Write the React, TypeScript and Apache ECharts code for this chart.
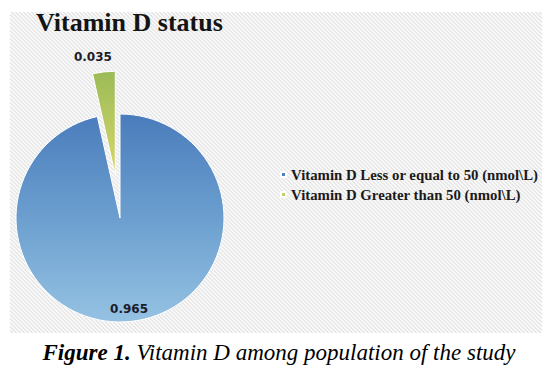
import React, { useEffect, useRef } from 'react';
import * as echarts from 'echarts';

const chartTitle = 'Vitamin D status';
const categories = ['Vitamin D Less or equal to 50 (nmol\\L)', 'Vitamin D Greater than 50 (nmol\\L)'];
const values = [0.965, 0.035];
const captionBold = 'Figure 1.';
const captionRest = 'Vitamin D among population of the study';

export default function App() {
  const ref = useRef<HTMLDivElement>(null);
  useEffect(() => {
    document.body.style.margin = '0';
    const chart = echarts.init(ref.current!, null, { renderer: 'svg' });

    const cvs = document.createElement('canvas');
    cvs.width = 4;
    cvs.height = 4;
    const ctx = cvs.getContext('2d')!;
    ctx.fillStyle = '#f9f9f9';
    ctx.fillRect(0, 0, 4, 4);
    ctx.fillStyle = '#e8e8e8';
    for (let i = 0; i < 4; i++) {
      ctx.fillRect(i, i, 1, 1);
      ctx.fillRect(i, (i + 1) % 4, 1, 1);
    }
    const pattern: any = { image: cvs, repeat: 'repeat' };

    const blueGrad = new echarts.graphic.LinearGradient(0, 0, 0, 1, [
      { offset: 0, color: '#4a7cbc' },
      { offset: 0.5, color: '#6c9fcf' },
      { offset: 1, color: '#95c2e3' },
    ]);
    const greenGrad = new echarts.graphic.LinearGradient(0, 0, 0, 1, [
      { offset: 0, color: '#9bbb57' },
      { offset: 1, color: '#d8d86c' },
    ]);

    const labelStyle = {
      fontFamily: 'DejaVu Sans',
      fontWeight: 'bold' as const,
      fontSize: 12,
      color: '#1c1c2a',
    };
    const greenLabel = { show: true, position: 'inside', offset: [-11, -66], ...labelStyle };

    chart.setOption({
      animation: false,
      backgroundColor: '#ffffff',
      title: {
        text: chartTitle,
        left: 36,
        top: 9,
        padding: 0,
        textStyle: {
          fontFamily: 'Liberation Serif',
          fontWeight: 'bold',
          fontSize: 26,
          color: '#141414',
        },
      },
      legend: {
        orient: 'vertical',
        left: 275,
        top: 162,
        icon: 'rect',
        itemWidth: 5,
        itemHeight: 5,
        itemGap: 5,
        selectedMode: false,
        data: [
          { name: categories[0], itemStyle: { color: '#4f81bd' } },
          { name: categories[1], itemStyle: { color: '#c4d06a' } },
        ],
        textStyle: {
          fontFamily: 'Liberation Serif',
          fontWeight: 'bold',
          fontSize: 14.8,
          lineHeight: 15,
          color: '#1a1a1a',
        },
      },
      graphic: [
        {
          type: 'rect',
          z: -10,
          shape: { x: 10, y: 12, width: 532, height: 321 },
          style: { fill: pattern },
        },
        {
          type: 'text',
          left: 'center',
          top: 341,
          style: {
            text: '{b|' + captionBold + '} ' + captionRest,
            fontFamily: 'Liberation Serif',
            fontStyle: 'italic',
            fontSize: 23,
            fill: '#000',
            rich: {
              b: {
                fontFamily: 'Liberation Serif',
                fontStyle: 'italic',
                fontWeight: 'bold',
                fontSize: 23,
                fill: '#000',
              },
            },
          },
        },
      ],
      series: [
        {
          type: 'pie',
          center: [120, 218],
          radius: 104,
          startAngle: 90,
          clockwise: true,
          selectedMode: 'single',
          selectedOffset: 43,
          avoidLabelOverlap: false,
          emphasis: { disabled: true },
          labelLine: { show: false },
          itemStyle: { borderColor: '#ffffff', borderWidth: 1 },
          data: [
            {
              name: categories[0],
              value: values[0],
              itemStyle: { color: blueGrad },
              label: { show: true, position: 'inside', offset: [3, 36], ...labelStyle },
            },
            {
              name: categories[1],
              value: values[1],
              selected: true,
              itemStyle: { color: greenGrad },
              label: greenLabel,
              select: { label: greenLabel, itemStyle: { color: greenGrad } },
            },
          ],
          label: { formatter: '{c}' },
        },
      ],
    });
    return () => chart.dispose();
  }, []);
  return <div ref={ref} style={{ width: 558, height: 379 }} />;
}
